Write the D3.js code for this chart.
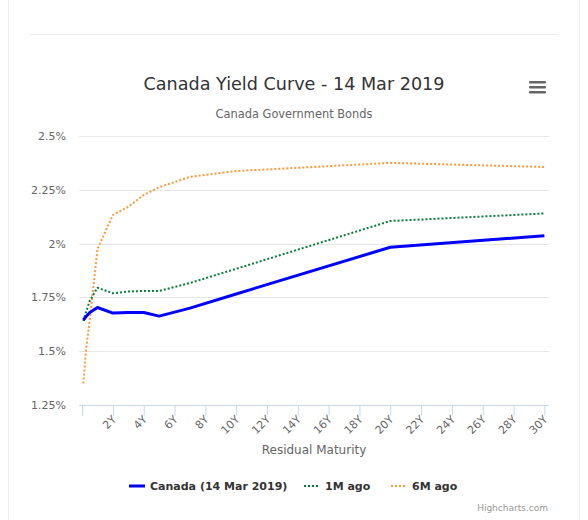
<!DOCTYPE html>
<html>
<head>
<meta charset="utf-8">
<script src="https://cdn.jsdelivr.net/npm/d3@7"></script>
<style>
  body { margin: 0; background: #fff; }
  svg { display: block; font-family: "DejaVu Sans", Verdana, sans-serif; }
</style>
</head>
<body>
<div id="chart"></div>
<script>
// vencimientos en años (1M, 3M, 6M, 1Y ... 30Y)
const vencimientos = [1 / 12, 3 / 12, 6 / 12, 1, 2, 3, 4, 5, 7, 10, 20, 30];

const canadaHoy = [1.645, 1.66, 1.68, 1.703, 1.677, 1.68, 1.68, 1.663, 1.70, 1.766, 1.983, 2.037];
const haceUnMes = [1.64, 1.68, 1.735, 1.795, 1.769, 1.777, 1.78, 1.78, 1.817, 1.883, 2.105, 2.14];
const haceSeisMeses = [1.35, 1.50, 1.645, 1.975, 2.133, 2.171, 2.226, 2.262, 2.31, 2.337, 2.375, 2.356];

const ticksX = d3.range(0, 31, 2);
const ticksY = [1.25, 1.5, 1.75, 2, 2.25, 2.5];
const etiquetasY = ["1.25%", "1.5%", "1.75%", "2%", "2.25%", "2.5%"];

const series = [
  { nombre: "Canada (14 Mar 2019)", valores: canadaHoy, color: "#0000ff", ancho: 3, guion: null },
  { nombre: "1M ago", valores: haceUnMes, color: "#0b7d3e", ancho: 2, guion: "2,2" },
  { nombre: "6M ago", valores: haceSeisMeses, color: "#ff9a3c", ancho: 2, guion: "2,2" }
];

const width = 588;
const height = 520;
const margen = { izq: 79, der: 549, arriba: 136, abajo: 405 };

const svg = d3.select("#chart")
  .append("svg")
  .attr("width", width)
  .attr("height", height);

// marco de la página
svg.append("line")
  .attr("x1", 8.5).attr("x2", 8.5).attr("y1", 0).attr("y2", height)
  .attr("stroke", "#ececf2");
svg.append("line")
  .attr("x1", 579.5).attr("x2", 579.5).attr("y1", 0).attr("y2", height)
  .attr("stroke", "#ececf2");
svg.append("line")
  .attr("x1", 29).attr("x2", 558).attr("y1", 34.5).attr("y2", 34.5)
  .attr("stroke", "#ececf2");

const x = d3.scaleLinear()
  .domain([-0.2, 30.3])
  .range([margen.izq, margen.der]);

const y = d3.scaleLinear()
  .domain([1.25, 2.5])
  .range([margen.abajo, margen.arriba]);

// rejilla
svg.append("g")
  .selectAll("line")
  .data(ticksY.slice(1))
  .join("line")
  .attr("x1", margen.izq)
  .attr("x2", margen.der)
  .attr("y1", d => Math.round(y(d)) + 0.5)
  .attr("y2", d => Math.round(y(d)) + 0.5)
  .attr("stroke", "#e6e6e6");

// etiquetas eje Y
svg.append("g")
  .selectAll("text")
  .data(ticksY)
  .join("text")
  .attr("x", 66)
  .attr("y", d => y(d) + 4)
  .attr("text-anchor", "end")
  .attr("font-size", 11)
  .attr("fill", "#666")
  .text((d, i) => etiquetasY[i]);

// eje X
const ejeX = svg.append("g")
  .attr("transform", `translate(0,${margen.abajo + 0.5})`)
  .call(d3.axisBottom(x).tickValues(ticksX).tickSize(10).tickFormat(""));

ejeX.select(".domain").attr("stroke", "#ccd6eb").attr("d", `M${margen.izq},0H${margen.der}`);
ejeX.selectAll(".tick line").attr("stroke", "#ccd6eb");

svg.append("g")
  .selectAll("text")
  .data(ticksX.filter(d => d > 0))
  .join("text")
  .attr("transform", d => `translate(${x(d) + 4},${margen.abajo + 15}) rotate(-45)`)
  .attr("text-anchor", "end")
  .attr("font-size", 11)
  .attr("fill", "#666")
  .text(d => `${d}Y`);

svg.append("text")
  .attr("x", (margen.izq + margen.der) / 2)
  .attr("y", 454)
  .attr("text-anchor", "middle")
  .attr("font-size", 12)
  .attr("fill", "#666")
  .text("Residual Maturity");

// líneas
const linea = d3.line()
  .x((d, i) => x(vencimientos[i]))
  .y(d => y(d));

const grupoSeries = svg.append("g");
series.slice().reverse().forEach(s => {
  grupoSeries.append("path")
    .attr("d", linea(s.valores))
    .attr("fill", "none")
    .attr("stroke", s.color)
    .attr("stroke-width", s.ancho)
    .attr("stroke-dasharray", s.guion)
    .attr("stroke-linejoin", "round")
    .attr("stroke-linecap", "butt");
});

// títulos
svg.append("text")
  .attr("x", 294)
  .attr("y", 90)
  .attr("text-anchor", "middle")
  .attr("font-size", 17.6)
  .attr("fill", "#333")
  .text("Canada Yield Curve - 14 Mar 2019");

svg.append("text")
  .attr("x", 294)
  .attr("y", 118)
  .attr("text-anchor", "middle")
  .attr("font-size", 11.4)
  .attr("fill", "#666")
  .text("Canada Government Bonds");

// menú
svg.append("g")
  .selectAll("rect")
  .data([82, 87, 92])
  .join("rect")
  .attr("x", 529)
  .attr("y", d => d - 1)
  .attr("width", 17)
  .attr("height", 2.6)
  .attr("rx", 1)
  .attr("fill", "#666");

// leyenda
const posLeyenda = [129, 304, 391];
const leyenda = svg.append("g")
  .selectAll("g")
  .data(series)
  .join("g")
  .attr("transform", (d, i) => `translate(${posLeyenda[i]},486)`);

leyenda.append("line")
  .attr("x1", 0).attr("x2", 16)
  .attr("y1", 0).attr("y2", 0)
  .attr("stroke", d => d.color)
  .attr("stroke-width", d => d.ancho)
  .attr("stroke-dasharray", d => d.guion);

leyenda.append("text")
  .attr("x", 21)
  .attr("y", 4)
  .attr("font-size", 11)
  .attr("font-weight", "bold")
  .attr("fill", "#333")
  .text(d => d.nombre);

svg.append("text")
  .attr("x", 548)
  .attr("y", 511)
  .attr("text-anchor", "end")
  .attr("font-size", 9)
  .attr("fill", "#999")
  .text("Highcharts.com");
</script>
</body>
</html>
